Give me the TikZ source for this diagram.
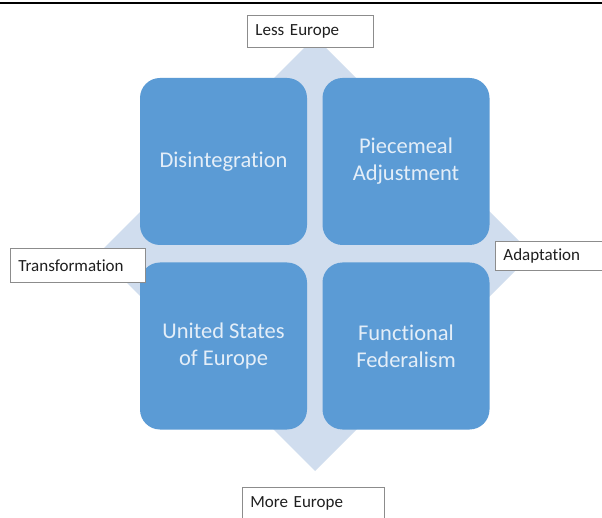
\documentclass[tikz,border=0pt]{standalone}
\usepackage{fontspec}
\setmainfont{Carlito}[Ligatures=NoCommon]
\definecolor{quad}{HTML}{5B9BD5}
\definecolor{axisfill}{HTML}{D0DDEE}
\definecolor{quadtext}{HTML}{E4EEF8}
\definecolor{tagline}{HTML}{8C8C8C}
\begin{document}
\begin{tikzpicture}[x=1pt,y=-1pt,
  quadrant/.style={fill=quad, rounded corners=20pt, minimum width=167pt,
    minimum height=167pt, inner sep=0pt, text=quadtext, align=center,
    font=\fontsize{22.5}{27}\selectfont},
  tag/.style={draw=tagline, line width=0.8pt, fill=white, anchor=north west,
    inner ysep=0pt, inner xsep=8pt, align=left, text=black!88,
    font=\fontsize{17}{20}\selectfont}]
\useasboundingbox (0,0) rectangle (602,518);
\fill[white] (0,0) rectangle (602,518);
% rule along the top edge
\draw[line width=2.2pt] (0,3) -- (602,3);
% axis diamond behind the quadrants
\coordinate (ctr) at (315,254);
\fill[axisfill] (315,37) -- (532,254) -- (315,471) -- (98,254) -- cycle;
% four quadrants
\node[quadrant] (dis) at (223.5,161.5) {Disintegration};
\node[quadrant] (pie) at (406,161.5) {Piecemeal\\Adjustment};
\node[quadrant] (use) at (223.5,346) {United States\\of Europe};
\node[quadrant] (fun) at (406,346) {Functional\\Federalism};
% axis labels
\node[tag, text width=110pt, minimum height=32pt] (less) at (247,15) {Less Europe};
\node[tag, text width=119pt, minimum height=34pt] (trans) at (10,248) {Transformation};
\node[tag, text width=99pt, minimum height=29pt] (adapt) at (495,241) {Adaptation};
\node[tag, text width=126pt, minimum height=32pt] (more) at (242,487) {More Europe};
\end{tikzpicture}
\end{document}
